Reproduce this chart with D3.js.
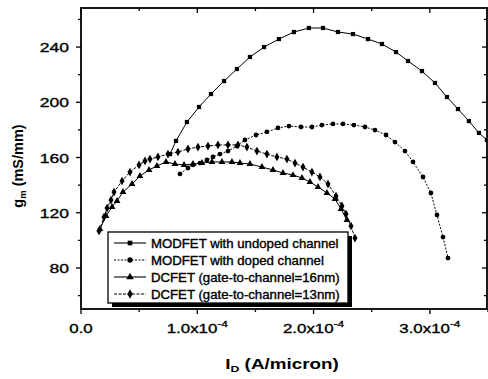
<!DOCTYPE html>
<html>
<head>
<meta charset="utf-8">
<script src="https://cdn.jsdelivr.net/npm/d3@7"></script>
<style>
  html, body { margin: 0; padding: 0; background: #fff; }
  svg { display: block; font-family: "Liberation Sans", Arial, sans-serif; }
  .heavy { stroke: #000; stroke-width: 0.35px; }
</style>
</head>
<body>
<svg id="chart" width="488" height="379"></svg>
<script>
// Transconductance gm versus drain current ID for four device structures.
const seriesNames = [
  "MODFET with undoped channel",
  "MODFET with doped channel",
  "DCFET (gate-to-channel=16nm)",
  "DCFET (gate-to-channel=13nm)"
];

// MODFET, undoped channel (squares)
const undopedId = [0.765e-4, 0.817e-4, 0.911e-4, 1.015e-4, 1.118e-4, 1.230e-4, 1.341e-4, 1.453e-4,
  1.574e-4, 1.702e-4, 1.831e-4, 1.960e-4, 2.081e-4, 2.210e-4, 2.339e-4, 2.468e-4, 2.588e-4,
  2.709e-4, 2.812e-4, 2.932e-4, 3.044e-4, 3.147e-4, 3.242e-4, 3.336e-4, 3.422e-4, 3.491e-4, 3.560e-4];
const undopedGm = [162.5, 172.0, 185.7, 196.6, 206.0, 215.4, 224.1, 232.8,
  240.0, 245.8, 250.9, 253.8, 253.8, 250.9, 249.4, 245.8, 242.2,
  236.4, 229.9, 222.6, 214.0, 203.8, 195.1, 186.4, 177.8, 172.7, 167.0];

// MODFET, doped channel (circles)
const dopedId = [0.851e-4, 0.920e-4, 0.963e-4, 1.023e-4, 1.083e-4, 1.135e-4, 1.195e-4, 1.264e-4,
  1.341e-4, 1.410e-4, 1.505e-4, 1.599e-4, 1.694e-4, 1.788e-4, 1.892e-4, 1.986e-4, 2.072e-4,
  2.167e-4, 2.253e-4, 2.347e-4, 2.442e-4, 2.528e-4, 2.623e-4, 2.700e-4, 2.786e-4, 2.855e-4,
  2.941e-4, 3.009e-4, 3.061e-4, 3.113e-4, 3.156e-4];
const dopedGm = [148.1, 152.4, 154.6, 156.0, 158.2, 160.4, 162.5, 164.7,
  168.3, 172.7, 176.3, 178.5, 181.4, 182.8, 182.1, 182.1, 183.5,
  184.3, 184.3, 183.5, 182.1, 179.9, 176.3, 171.2, 164.7, 156.8,
  145.9, 134.3, 118.4, 102.4, 87.2];

// DCFET, gate-to-channel 16 nm (triangles)
const dc16Id = [0.163e-4, 0.215e-4, 0.267e-4, 0.310e-4, 0.361e-4, 0.439e-4, 0.507e-4, 0.585e-4,
  0.653e-4, 0.731e-4, 0.808e-4, 0.886e-4, 0.963e-4, 1.040e-4, 1.126e-4, 1.212e-4, 1.298e-4,
  1.367e-4, 1.453e-4, 1.556e-4, 1.651e-4, 1.737e-4, 1.823e-4, 1.900e-4, 1.969e-4, 2.038e-4,
  2.115e-4, 2.184e-4, 2.236e-4, 2.287e-4];
const dc16Gm = [108.2, 117.7, 124.2, 128.5, 135.0, 140.8, 146.6, 151.0,
  153.9, 156.8, 155.3, 154.6, 155.3, 156.0, 156.8, 156.8, 156.8,
  156.0, 155.3, 153.1, 151.0, 148.8, 147.3, 145.2, 142.3, 138.7,
  134.3, 130.0, 122.7, 114.8];

// DCFET, gate-to-channel 13 nm (diamonds)
const dc13Id = [0.155e-4, 0.198e-4, 0.224e-4, 0.258e-4, 0.284e-4, 0.353e-4, 0.421e-4, 0.499e-4,
  0.550e-4, 0.593e-4, 0.662e-4, 0.748e-4, 0.834e-4, 0.920e-4, 1.006e-4, 1.092e-4, 1.178e-4,
  1.264e-4, 1.350e-4, 1.427e-4, 1.513e-4, 1.599e-4, 1.685e-4, 1.771e-4, 1.840e-4, 1.909e-4,
  1.986e-4, 2.055e-4, 2.124e-4, 2.193e-4, 2.244e-4, 2.279e-4, 2.322e-4, 2.356e-4];
const dc13Gm = [106.8, 116.9, 123.4, 129.2, 135.0, 143.0, 149.5, 154.6,
  157.5, 158.9, 160.4, 162.5, 164.0, 166.2, 167.6, 168.3, 169.1,
  169.1, 169.1, 167.6, 164.7, 162.5, 160.4, 158.9, 156.0, 153.1,
  149.5, 145.9, 140.8, 132.1, 124.9, 119.1, 110.4, 101.7];

const xTicks = [0, 1e-4, 2e-4, 3e-4];
const xTickMantissa = ["0.0", "1.0", "2.0", "3.0"];
const xTickExponent = "-4";
const xMinorTicks = [0.5e-4, 1.5e-4, 2.5e-4, 3.5e-4];
const yTicks = [80, 120, 160, 200, 240];
const yMinorTicks = [60, 100, 140, 180, 220, 260];

const svg = d3.select("#chart");
const pL = 81, pR = 487, pT = 8, pB = 309;

const x = d3.scaleLinear().domain([0, 3.5e-4]).range([pL, pL + 407]);
const y = d3.scaleLinear().domain([50, 268]).range([309.4, 8.4]);

// Text placed at an anchor point and widened horizontally by factor fx
function wideText(parent, ax, ay, fx, anchor) {
  return parent.append("g")
    .attr("transform", "translate(" + ax + "," + ay + ") scale(" + fx + ",1)")
    .append("text").attr("x", 0).attr("y", 0).attr("text-anchor", anchor);
}

svg.append("defs").append("clipPath").attr("id", "plotclip")
  .append("rect").attr("x", pL).attr("y", pT)
  .attr("width", pR - pL).attr("height", pB - pT);

// Frame
svg.append("rect")
  .attr("x", pL).attr("y", pT)
  .attr("width", pR - pL).attr("height", pB - pT)
  .attr("fill", "none").attr("stroke", "#000").attr("stroke-width", 1.8);

// Ticks: outward on left/bottom, mirrored inward on top/right
const axisG = svg.append("g").attr("stroke", "#000").attr("stroke-width", 1.3);
xTicks.forEach(v => {
  axisG.append("line").attr("x1", x(v)).attr("x2", x(v)).attr("y1", pB).attr("y2", pB + 5);
  axisG.append("line").attr("x1", x(v)).attr("x2", x(v)).attr("y1", pT).attr("y2", pT + 5);
});
xMinorTicks.forEach(v => {
  axisG.append("line").attr("x1", x(v)).attr("x2", x(v)).attr("y1", pB).attr("y2", pB + 3);
  axisG.append("line").attr("x1", x(v)).attr("x2", x(v)).attr("y1", pT).attr("y2", pT + 3);
});
yTicks.forEach(v => {
  axisG.append("line").attr("x1", pL - 5).attr("x2", pL).attr("y1", y(v)).attr("y2", y(v));
  axisG.append("line").attr("x1", pR - 5).attr("x2", pR).attr("y1", y(v)).attr("y2", y(v));
});
yMinorTicks.forEach(v => {
  axisG.append("line").attr("x1", pL - 3).attr("x2", pL).attr("y1", y(v)).attr("y2", y(v));
  axisG.append("line").attr("x1", pR - 3).attr("x2", pR).attr("y1", y(v)).attr("y2", y(v));
});

// Tick labels
yTicks.forEach(v => {
  wideText(svg, pL - 12, y(v) + 5, 1.3, "end")
    .attr("class", "heavy").attr("font-size", 13.5).text(v);
});
xTicks.forEach((v, i) => {
  const t = wideText(svg, x(v), pB + 24, 1.25, "middle")
    .attr("class", "heavy").attr("font-size", 13.5);
  if (i === 0) { t.text(xTickMantissa[i]); return; }
  t.append("tspan").text(xTickMantissa[i] + "x10");
  t.append("tspan").attr("dy", -6).attr("font-size", 9.5).text(xTickExponent);
});

// Axis titles
const yt = svg.append("text")
  .attr("transform", "translate(23,166) rotate(-90)")
  .attr("text-anchor", "middle").attr("font-size", 14.5).attr("font-weight", "bold");
yt.append("tspan").text("g");
yt.append("tspan").attr("font-size", 9.5).attr("dy", 3).text("m");
yt.append("tspan").attr("dy", -3).text(" (mS/mm)");

const xt = wideText(svg, 282, 369, 1.3, "middle")
  .attr("font-size", 14.5).attr("font-weight", "bold");
xt.append("tspan").text("I");
xt.append("tspan").attr("font-size", 9.5).attr("dy", 3).text("D");
xt.append("tspan").attr("dy", -3).text(" (A/micron)");

// Series
const series = [
  { name: seriesNames[0], xs: undopedId, ys: undopedGm, sym: d3.symbolSquare, size: 18, dash: null },
  { name: seriesNames[1], xs: dopedId, ys: dopedGm, sym: d3.symbolCircle, size: 18, dash: "2,1.5" },
  { name: seriesNames[2], xs: dc16Id, ys: dc16Gm, sym: d3.symbolTriangle, size: 20, dash: null },
  { name: seriesNames[3], xs: dc13Id, ys: dc13Gm, sym: d3.symbolDiamond, size: 22, dash: "3,1.5" }
];

const plot = svg.append("g").attr("clip-path", "url(#plotclip)");
const line = d3.line().x(d => x(d[0])).y(d => y(d[1]));

series.forEach(s => {
  const pts = s.xs.map((v, i) => [v, s.ys[i]]);
  plot.append("path").datum(pts)
    .attr("d", line).attr("fill", "none").attr("stroke", "#000")
    .attr("stroke-width", 1).attr("stroke-dasharray", s.dash);
  plot.selectAll(null).data(pts).join("path")
    .attr("transform", d => "translate(" + x(d[0]) + "," + y(d[1]) + ")")
    .attr("d", d3.symbol().type(s.sym).size(s.size))
    .attr("fill", "#000");
});

// Legend with drop shadow
const lg = { x: 108, y: 232, w: 240, h: 71 };
svg.append("rect").attr("x", lg.x + 4).attr("y", lg.y + 4).attr("width", lg.w).attr("height", lg.h).attr("fill", "#000");
svg.append("rect").attr("x", lg.x).attr("y", lg.y).attr("width", lg.w).attr("height", lg.h)
  .attr("fill", "#fff").attr("stroke", "#000").attr("stroke-width", 1.3);

series.forEach((s, i) => {
  const cy = 243 + i * 17;
  svg.append("line").attr("x1", 114).attr("x2", 146).attr("y1", cy).attr("y2", cy)
    .attr("stroke", "#000").attr("stroke-width", 1.1).attr("stroke-dasharray", s.dash);
  svg.append("path").attr("transform", "translate(130," + cy + ")")
    .attr("d", d3.symbol().type(s.sym).size(s.size + 4)).attr("fill", "#000");
  wideText(svg, 151, cy + 4.5, 1.1, "start")
    .attr("class", "heavy").attr("font-size", 12).text(s.name);
});
</script>
</body>
</html>
